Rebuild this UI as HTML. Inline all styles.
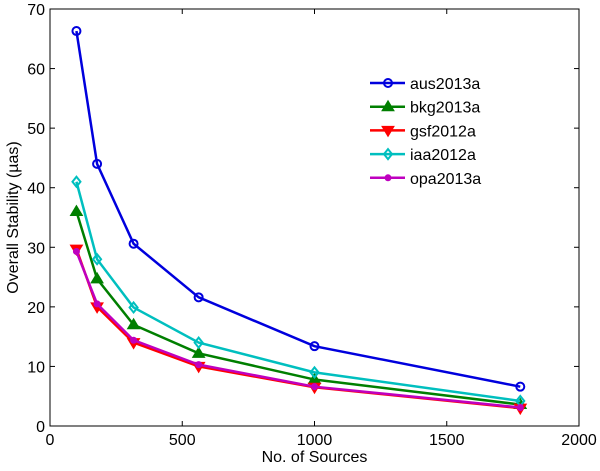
<!DOCTYPE html>
<html><head><meta charset="utf-8"><style>
body{margin:0;background:#fff;}
svg text{font-family:"Liberation Sans",sans-serif;fill:#000;}
</style></head><body>
<svg id="chart" width="600" height="466"></svg>
<script>
const xValues=[100,178,316,562,1000,1778];
const seriesNames=["aus2013a","bkg2013a","gsf2012a","iaa2012a","opa2013a"];
const aus=[66.3,44,30.6,21.6,13.4,6.6];
const bkg=[36,24.7,17,12.2,7.8,3.6];
const gsf=[29.7,20,14,10,6.5,3];
const iaa=[41,28,19.9,14,9,4.2];
const opa=[29.3,20.5,14.4,10.3,6.6,3.1];
const xTicks=[0,500,1000,1500,2000];
const yTicks=[0,10,20,30,40,50,60,70];

const NS="http://www.w3.org/2000/svg";
const svg=document.getElementById('chart');
const L=50,R=579,T=9,B=426;
const sx=v=>L+(v-0)/(2000)*(R-L);
const sy=v=>B-(v/70)*(B-T);
function mk(tag,attrs,parent){const e=document.createElementNS(NS,tag);for(const k in attrs)e.setAttribute(k,attrs[k]);(parent||svg).appendChild(e);return e;}

const axes=mk('g',{});


const frame=mk('rect',{x:L,y:T,width:R-L,height:B-T,fill:'none',stroke:'#000','stroke-width':1},axes);


xTicks.forEach(t=>{
  const x=sx(t);
  mk('line',{x1:x,y1:B,x2:x,y2:B-5,stroke:'#000'},axes);
  mk('line',{x1:x,y1:T,x2:x,y2:T+5,stroke:'#000'},axes);
  const tx=mk('text',{x:x,y:B+19,'font-size':16,'text-anchor':'middle'},axes);
  tx.textContent=t;
  
  
});
yTicks.forEach(t=>{
  const y=sy(t);
  mk('line',{x1:L,y1:y,x2:L+5,y2:y,stroke:'#000'},axes);
  mk('line',{x1:R,y1:y,x2:R-5,y2:y,stroke:'#000'},axes);
  const tx=mk('text',{x:L-5,y:y+6,'font-size':16,'text-anchor':'end'},axes);
  tx.textContent=t;
  
  
});
const xt=mk('text',{x:sx(1000),y:462,'font-size':16,'text-anchor':'middle'});
xt.textContent='No. of Sources';


const yt=mk('text',{x:0,y:0,'font-size':16,'text-anchor':'middle',transform:`translate(18,${(T+B)/2}) rotate(-90)`});
yt.textContent='Overall Stability (\u00b5as)';



const colors=['#0000dd','#007f00','#ff0000','#00bfbf','#bf00bf'];
const data=[aus,bkg,gsf,iaa,opa];
const markers=['circle','up','down','diamond','dot'];
function marker(g,type,x,y,c){
  if(type==='circle')mk('circle',{cx:x,cy:y,r:4,fill:'none',stroke:c,'stroke-width':2},g);
  else if(type==='up')mk('polygon',{points:`${x},${y-6} ${x-6},${y+4} ${x+6},${y+4}`,fill:c,stroke:c},g);
  else if(type==='down')mk('polygon',{points:`${x},${y+6} ${x-6},${y-4} ${x+6},${y-4}`,fill:c,stroke:c},g);
  else if(type==='diamond')mk('polygon',{points:`${x},${y-5} ${x+4},${y} ${x},${y+5} ${x-4},${y}`,fill:'none',stroke:c,'stroke-width':2},g);
  else mk('circle',{cx:x,cy:y,r:3.5,fill:c},g);
}
data.forEach((s,i)=>{
  const g=mk('g',{});
  
  
  mk('polyline',{points:s.map((v,j)=>sx(xValues[j])+','+sy(v)).join(' '),fill:'none',stroke:colors[i],'stroke-width':2.5},g);
  s.forEach((v,j)=>marker(g,markers[i],sx(xValues[j]),sy(v),colors[i]));
});
const leg=mk('g',{});


seriesNames.forEach((n,i)=>{
  const y=83+i*23.7;
  const e=mk('g',{},leg);
  
  
  mk('line',{x1:370,y1:y,x2:405,y2:y,stroke:colors[i],'stroke-width':2.5},e);
  marker(e,markers[i],388,y,colors[i]);
  const t=mk('text',{x:410,y:y+6,'font-size':16},e);
  t.textContent=n;
});
</script>
</body></html>
